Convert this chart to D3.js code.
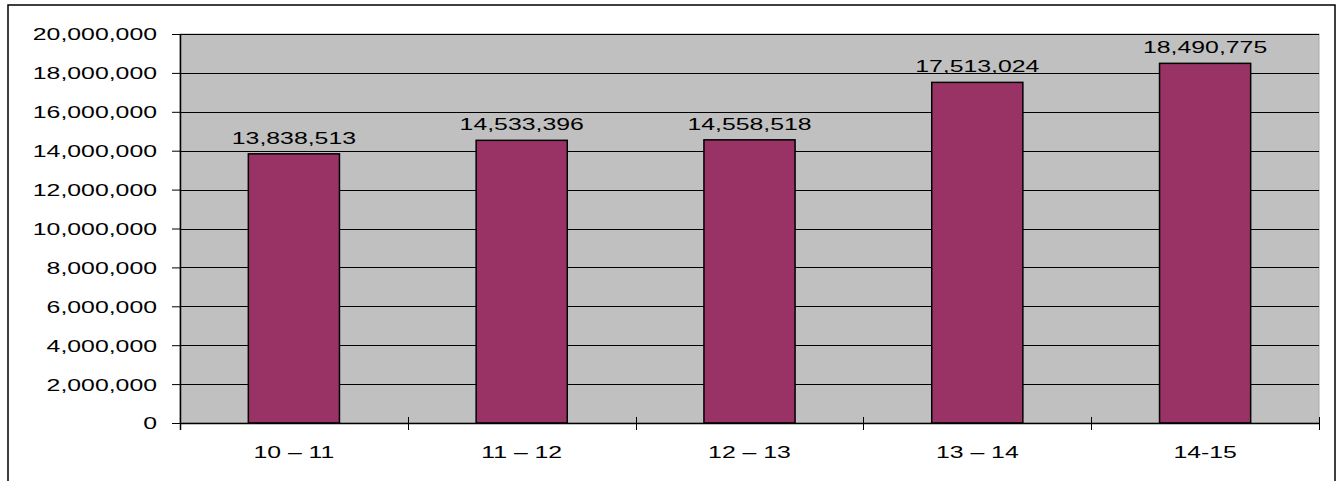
<!DOCTYPE html>
<html>
<head>
<meta charset="utf-8">
<script src="https://cdn.jsdelivr.net/npm/d3@7"></script>
<style>
  html, body { margin: 0; padding: 0; background: #fff; }
  svg { display: block; }
  text { font-family: "Liberation Sans", Arial, sans-serif; fill: #000; }
</style>
</head>
<body>
<svg id="chart" width="1343" height="481"></svg>
<script>
const categories = ["10 \u2013 11", "11 \u2013 12", "12 \u2013 13", "13 \u2013 14", "14-15"];
const values = [13838513, 14533396, 14558518, 17513024, 18490775];
const yTicks = [0, 2000000, 4000000, 6000000, 8000000, 10000000, 12000000, 14000000, 16000000, 18000000, 20000000];

const W = 1343, H = 481;
const plot = { left: 180, right: 1319, top: 34, bottom: 423 };
const FS = 17, SX = 1.46;

const svg = d3.select("#chart");

// outer frame
svg.append("rect")
  .attr("x", 8).attr("y", 5)
  .attr("width", 1335 - 8).attr("height", 500)
  .attr("fill", "#fff").attr("stroke", "#000").attr("stroke-width", 1.5);

const x = d3.scaleBand().domain(categories)
  .range([plot.left, plot.right]).paddingInner(0.6).paddingOuter(0.3);
const y = d3.scaleLinear().domain([0, 20000000]).range([plot.bottom, plot.top]);
const fmt = d3.format(",");

// plot background
svg.append("rect")
  .attr("x", plot.left).attr("y", plot.top)
  .attr("width", plot.right - plot.left).attr("height", plot.bottom - plot.top)
  .attr("fill", "#c0c0c0").attr("stroke", "#a8a8a8").attr("stroke-width", 1);

// gridlines
svg.append("g").selectAll("line").data(yTicks.filter(d => d > 0)).join("line")
  .attr("x1", plot.left).attr("x2", plot.right)
  .attr("y1", d => Math.round(y(d)) + 0.5).attr("y2", d => Math.round(y(d)) + 0.5)
  .attr("stroke", "#000").attr("stroke-width", 1);

// bars
svg.append("g").selectAll("rect").data(values).join("rect")
  .attr("x", (d, i) => x(categories[i]))
  .attr("y", d => y(d))
  .attr("width", x.bandwidth())
  .attr("height", d => y(0) - y(d))
  .attr("fill", "#993366").attr("stroke", "#000").attr("stroke-width", 1.5);

// data labels
svg.append("g").selectAll("text").data(values).join("text")
  .attr("transform", (d, i) => `translate(${x(categories[i]) + x.bandwidth() / 2},${y(d) - 10}) scale(${SX},1)`)
  .attr("text-anchor", "middle")
  .style("font-size", FS + "px")
  .text(d => fmt(d));

// y axis
const yAxis = d3.axisLeft(y).tickValues(yTicks).tickFormat(fmt)
  .tickSize(8).tickSizeOuter(0).tickPadding(15);
const gy = svg.append("g").attr("transform", `translate(${plot.left},0)`).call(yAxis);
gy.select(".domain").attr("stroke", "#000").attr("stroke-width", 1.5);
gy.selectAll(".tick line").attr("stroke", "#000");
gy.selectAll(".tick text").each(function() {
  const t = d3.select(this);
  const xx = +t.attr("x");
  t.attr("x", 0).attr("transform", `translate(${xx},0) scale(${SX},1)`)
   .attr("dy", "0.35em")
   .style("font-size", FS + "px").style("font-family", "'Liberation Sans', Arial, sans-serif");
});

// x axis line
svg.append("line")
  .attr("x1", plot.left).attr("x2", plot.right)
  .attr("y1", plot.bottom + 0.5).attr("y2", plot.bottom + 0.5)
  .attr("stroke", "#000").attr("stroke-width", 1.5);
svg.append("line")
  .attr("x1", plot.left + 0.5).attr("x2", plot.left + 0.5)
  .attr("y1", plot.bottom).attr("y2", plot.bottom + 7)
  .attr("stroke", "#000").attr("stroke-width", 1.5);

// x category boundary ticks
const step = x.step();
const boundaries = categories.map((c, i) => x(c) - x.bandwidth() * 0 - step * 0.3 + step).slice(0);
svg.append("g").selectAll("line").data(boundaries).join("line")
  .attr("x1", d => Math.round(d) + 0.5).attr("x2", d => Math.round(d) + 0.5)
  .attr("y1", plot.bottom - 6).attr("y2", plot.bottom + 7)
  .attr("stroke", "#000").attr("stroke-width", 1);

// category labels
svg.append("g").selectAll("text").data(categories).join("text")
  .attr("transform", d => `translate(${x(d) + x.bandwidth() / 2},458) scale(${SX},1)`)
  .attr("text-anchor", "middle")
  .style("font-size", FS + "px")
  .text(d => d);
</script>
</body>
</html>
